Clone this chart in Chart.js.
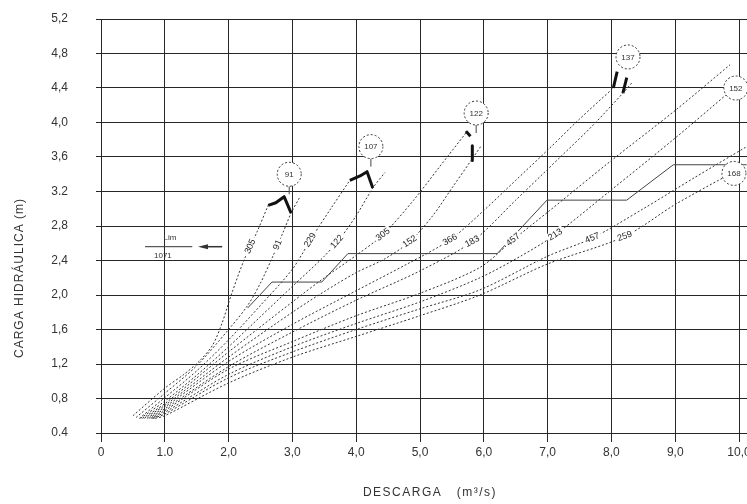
<!DOCTYPE html>
<html>
<head>
<meta charset="utf-8">
<script src="https://cdn.jsdelivr.net/npm/chart.js@4.4.1/dist/chart.umd.min.js"></script>
<style>
  html, body { margin: 0; padding: 0; background: #fff; }
  #wrap { width: 747px; height: 504px; }
</style>
</head>
<body>
<div id="wrap"><canvas id="chart" width="747" height="504"></canvas></div>
<script>
// Axis tick labels
const xTickLabels = ['0', '1.0', '2,0', '3,0', '4,0', '5,0', '6,0', '7,0', '8,0', '9,0', '10,0'];
const yTickLabels = ['0.4', '0,8', '1,2', '1,6', '2,0', '2,4', '2,8', '3.2', '3,6', '4,0', '4,4', '4,8', '5,2'];

// Head (m) against discharge (m3/s), one curve per culvert size
const curve305a = [[0.5,0.6],[1.0,0.92],[1.3,1.08],[1.55,1.24],[1.75,1.42],[1.9,1.68],[2.05,2.02],[2.25,2.42],[2.45,2.74],[2.62,3.04]];
const curve91   = [[0.55,0.58],[1.0,0.86],[1.5,1.18],[2.0,1.6],[2.3,1.88],[2.5,2.14],[2.7,2.46],[2.85,2.72],[2.98,2.95],[3.12,3.14]];
const curve229  = [[0.6,0.57],[1.0,0.81],[1.5,1.12],[2.0,1.48],[2.5,1.88],[3.0,2.3],[3.3,2.66],[3.6,3.0],[3.9,3.33]];
const curve122  = [[0.62,0.57],[1.0,0.77],[1.5,1.07],[2.0,1.4],[2.5,1.75],[3.0,2.1],[3.5,2.45],[3.75,2.66],[4.0,2.92],[4.26,3.24],[4.45,3.42]];
const curve305b = [[0.65,0.57],[1.0,0.74],[2.0,1.34],[3.0,1.92],[3.5,2.2],[4.0,2.46],[4.42,2.7],[4.9,3.1],[5.3,3.48],[5.72,3.88]];
const curve152  = [[0.68,0.57],[1.0,0.72],[2.0,1.28],[3.0,1.8],[3.5,2.04],[4.0,2.26],[4.45,2.42],[4.84,2.62],[5.2,2.92],[5.5,3.24],[5.82,3.58],[5.95,3.72]];
const curve366  = [[0.72,0.57],[1.0,0.7],[2.0,1.23],[3.0,1.66],[4.0,2.05],[4.8,2.36],[5.47,2.64],[6.0,2.98],[6.5,3.33],[7.0,3.68],[7.5,4.04],[8.03,4.4]];
const curve183  = [[0.75,0.57],[1.0,0.68],[2.0,1.17],[3.0,1.57],[4.0,1.94],[5.0,2.28],[5.82,2.62],[6.5,3.1],[7.2,3.6],[7.7,3.96],[8.18,4.34],[8.32,4.46]];
const curve457a = [[0.78,0.57],[1.0,0.66],[2.0,1.14],[3.0,1.46],[4.0,1.76],[5.0,2.02],[5.94,2.32],[6.46,2.64],[7.0,2.96],[8.0,3.56],[9.0,4.14],[9.86,4.67]];
const curve213  = [[0.8,0.57],[1.0,0.64],[2.0,1.08],[3.0,1.4],[4.0,1.67],[5.0,1.92],[5.94,2.2],[6.6,2.46],[7.12,2.7],[8.0,3.22],[9.0,3.82],[9.86,4.36]];
const curve457b = [[0.82,0.57],[1.0,0.62],[2.0,1.04],[3.0,1.34],[4.0,1.6],[5.0,1.84],[5.94,2.06],[7.0,2.45],[7.7,2.66],[8.5,3.0],[9.3,3.36],[10.12,3.72]];
const curve259  = [[0.85,0.57],[1.0,0.6],[2.0,0.98],[3.0,1.28],[4.0,1.52],[5.0,1.76],[5.94,2.0],[7.0,2.36],[8.21,2.68],[9.0,3.05],[9.9,3.42]];

const curves = [curve305a, curve91, curve229, curve122, curve305b, curve152, curve366, curve183, curve457a, curve213, curve457b, curve259];
const curveNames = ['305', '91', '229', '122', '305', '152', '366', '183', '457', '213', '457', '259'];
const curveLabelX = [2.34, 2.77, 3.28, 3.7, 4.42, 4.84, 5.47, 5.82, 6.46, 7.12, 7.7, 8.21];

// Limit line (staircase)
const limLine = [[2.30,1.85],[2.68,2.15],[3.46,2.15],[3.87,2.48],[6.21,2.48],[6.99,3.10],[8.24,3.10],[8.97,3.51],[10.12,3.51]];

// Heavy end marks of each group
const endMarks = [
  [[2.62,3.04],[2.74,3.07],[2.87,3.14],[2.98,2.95]],
  [[3.9,3.33],[4.06,3.38],[4.17,3.43],[4.26,3.24]],
  [[5.72,3.9],[5.79,3.84]],
  [[5.82,3.73],[5.82,3.56]],
  [[8.09,4.59],[8.03,4.4]],
  [[8.24,4.52],[8.18,4.34]]
];

// Group tags (circled)
const groupNames = ['91', '107', '122', '137', '152', '168'];
const groupX = [2.95, 4.23, 5.88, 8.26, 9.95, 9.92];
const groupY = [3.40, 3.72, 4.11, 4.76, 4.40, 3.41];

const toXY = pts => pts.map(p => ({ x: p[0], y: p[1] }));

const datasets = [];
curves.forEach((c, i) => datasets.push({
  label: curveNames[i], data: toXY(c), showLine: true, pointRadius: 0,
  borderColor: '#333', borderWidth: 1, borderDash: [2, 2], tension: 0.3
}));
datasets.push({
  label: 'Lim', data: toXY(limLine), showLine: true, pointRadius: 0,
  borderColor: '#444', borderWidth: 1, tension: 0
});
endMarks.forEach(m => datasets.push({
  label: 'mark', data: toXY(m), showLine: true, pointRadius: 0,
  borderColor: '#111', borderWidth: 3, tension: 0, borderJoinStyle: 'round'
}));

const FONT = '"Liberation Sans", Arial, sans-serif';

const overlay = {
  id: 'overlay',
  afterDatasetsDraw(chart) {
    const { ctx, scales: { x, y } } = chart;
    const px = v => x.getPixelForValue(v);
    const py = v => y.getPixelForValue(v);

    // labels written along each curve
    curves.forEach((pts, i) => {
      const lx = curveLabelX[i];
      let k = 0;
      while (k < pts.length - 2 && pts[k + 1][0] < lx) k++;
      const p0 = pts[k], p1 = pts[k + 1];
      const t = (lx - p0[0]) / (p1[0] - p0[0]);
      const ly = p0[1] + t * (p1[1] - p0[1]);
      const ang = Math.atan2(py(p1[1]) - py(p0[1]), px(p1[0]) - px(p0[0]));
      ctx.save();
      ctx.translate(px(lx), py(ly));
      ctx.rotate(ang);
      ctx.font = '9px ' + FONT;
      const w = ctx.measureText(curveNames[i]).width;
      ctx.fillStyle = '#fff';
      ctx.fillRect(-w / 2 - 2, -5, w + 4, 10);
      ctx.fillStyle = '#222';
      ctx.textAlign = 'center';
      ctx.textBaseline = 'middle';
      ctx.fillText(curveNames[i], 0, 0);
      ctx.restore();
    });

    // circled group tags
    groupNames.forEach((g, i) => {
      const cx = px(groupX[i]), cy = py(groupY[i]);
      ctx.save();
      if (i < 3) {
        ctx.strokeStyle = '#444';
        ctx.lineWidth = 1;
        ctx.beginPath();
        ctx.moveTo(cx, cy + 12);
        ctx.lineTo(cx, cy + 20);
        ctx.stroke();
      }
      ctx.beginPath();
      ctx.arc(cx, cy, 12, 0, Math.PI * 2);
      ctx.fillStyle = '#fff';
      ctx.fill();
      ctx.setLineDash([2, 2]);
      ctx.strokeStyle = '#333';
      ctx.lineWidth = 1;
      ctx.stroke();
      ctx.setLineDash([]);
      ctx.fillStyle = '#333';
      ctx.font = '8px ' + FONT;
      ctx.textAlign = 'center';
      ctx.textBaseline = 'middle';
      ctx.fillText(g, cx, cy + 0.5);
      ctx.restore();
    });

    // Lim / 1071 note with arrow
    ctx.save();
    ctx.fillStyle = '#333';
    ctx.strokeStyle = '#333';
    ctx.font = '8px ' + FONT;
    ctx.textAlign = 'center';
    ctx.textBaseline = 'middle';
    const bx0 = px(0.69), bx1 = px(1.43), by = py(2.56);
    ctx.fillText('Lim', px(1.08), by - 9);
    ctx.fillText('1071', px(0.97), by + 9);
    ctx.lineWidth = 1;
    ctx.beginPath();
    ctx.moveTo(bx0, by); ctx.lineTo(bx1, by);
    ctx.stroke();
    const ax0 = px(1.90), ax1 = px(1.52);
    ctx.lineWidth = 1.5;
    ctx.beginPath();
    ctx.moveTo(ax0, by); ctx.lineTo(ax1 + 6, by);
    ctx.stroke();
    ctx.beginPath();
    ctx.moveTo(ax1, by);
    ctx.lineTo(ax1 + 10, by - 2.5);
    ctx.lineTo(ax1 + 10, by + 2.5);
    ctx.closePath();
    ctx.fill();
    ctx.restore();
  },
  afterDraw(chart) {
    const { ctx, chartArea } = chart;
    ctx.save();
    ctx.fillStyle = '#333';
    ctx.font = '12px ' + FONT;
    ctx.textAlign = 'center';
    ctx.textBaseline = 'middle';
    ctx.letterSpacing = '1px';
    ctx.translate(20, 278);
    ctx.rotate(-Math.PI / 2);
    ctx.fillText('CARGA HIDRÁULICA (m)', 0, 0);
    ctx.restore();

    ctx.save();
    ctx.fillStyle = '#333';
    ctx.font = '12px ' + FONT;
    ctx.textAlign = 'center';
    ctx.textBaseline = 'middle';
    ctx.letterSpacing = '1.5px';
    ctx.fillText('DESCARGA   (m³/s)', (chartArea.left + chartArea.right) / 2 + 6, 493);
    ctx.restore();
  }
};

new Chart(document.getElementById('chart'), {
  type: 'scatter',
  data: { datasets },
  options: {
    responsive: false,
    devicePixelRatio: 1,
    animation: false,
    layout: { padding: { top: 19, right: 0, bottom: 0, left: 0 } },
    plugins: { legend: { display: false }, tooltip: { enabled: false } },
    scales: {
      x: {
        type: 'linear', min: 0, max: 10.125,
        afterBuildTicks: s => { s.ticks = xTickLabels.map((_, i) => ({ value: i })); },
        afterFit: s => { s.height = 71; s.paddingLeft = 0; s.paddingRight = 0; },
        ticks: {
          callback: (v, i) => xTickLabels[i],
          font: { family: FONT, size: 12 }, color: '#333', padding: 3, maxRotation: 0
        },
        grid: { color: '#262626', lineWidth: 1, tickLength: 9, drawTicks: true },
        border: { display: false }
      },
      y: {
        type: 'linear', min: 0.4, max: 5.2,
        afterBuildTicks: s => { s.ticks = yTickLabels.map((_, i) => ({ value: Number((0.4 + 0.4 * i).toFixed(1)) })); },
        afterFit: s => { s.width = 101; s.paddingTop = 0; s.paddingBottom = 0; },
        ticks: {
          callback: (v, i) => yTickLabels[i],
          font: { family: FONT, size: 12 }, color: '#333', padding: 28
        },
        grid: { color: '#262626', lineWidth: 1, tickLength: 5, drawTicks: true },
        border: { display: false }
      }
    }
  },
  plugins: [overlay]
});
</script>
</body>
</html>
